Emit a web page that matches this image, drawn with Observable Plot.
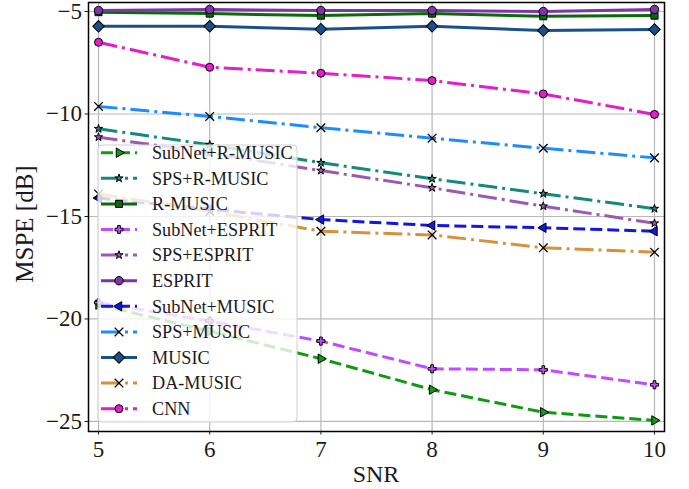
<!DOCTYPE html>
<html><head><meta charset="utf-8">
<script src="https://cdn.jsdelivr.net/npm/d3@7"></script>
<script src="https://cdn.jsdelivr.net/npm/@observablehq/plot@0.6"></script>
<style>html,body{margin:0;padding:0;background:#fff;} #chart{width:689px;height:489px;position:relative;}</style>
</head><body><div id="chart"></div>
<script>
const snr = [5, 6, 7, 8, 9, 10];
const subnetRMusic = [-19.3, -20.6, -21.94, -23.45, -24.55, -24.95];
const spsRMusic    = [-10.72, -11.5, -12.38, -13.16, -13.89, -14.62];
const rMusic       = [-5.03, -5.1, -5.2, -5.1, -5.23, -5.2];
const subnetEsprit = [-19.2, -20.1, -21.08, -22.43, -22.48, -23.21];
const spsEsprit    = [-11.13, -11.9, -12.76, -13.6, -14.5, -15.33];
const esprit       = [-4.95, -4.9, -4.95, -4.95, -5.0, -4.9];
const subnetMusic  = [-14.1, -14.65, -15.15, -15.44, -15.55, -15.72];
const spsMusic     = [-9.63, -10.12, -10.67, -11.18, -11.67, -12.14];
const music        = [-5.72, -5.72, -5.86, -5.72, -5.93, -5.88];
const daMusic      = [-13.9, -14.75, -15.72, -15.9, -16.53, -16.74];
const cnn          = [-6.5, -7.72, -8.01, -8.37, -9.02, -10.02];

const seriesNames = ["SubNet+R-MUSIC","SPS+R-MUSIC","R-MUSIC","SubNet+ESPRIT","SPS+ESPRIT","ESPRIT","SubNet+MUSIC","SPS+MUSIC","MUSIC","DA-MUSIC","CNN"];
const seriesValues = [subnetRMusic, spsRMusic, rMusic, subnetEsprit, spsEsprit, esprit, subnetMusic, spsMusic, music, daMusic, cnn];
const seriesColors = ["#119911","#168a78","#0a6a0a","#c04cff","#9b59b6","#7e35a8","#1515e6","#1e8cff","#1b4f8a","#d9903b","#e21fc8"];
const seriesDash = ["dashed","dashdot","solid","dashed","dashdot","solid","dashed","dashdot","solid","dashdot","dashdot"];
const seriesSymbols = ["triangle","star","square","cross","star","circle","triangle","times","square","times","circle"];
const seriesRotate = [90, 0, 0, 0, 0, 0, -90, 0, 45, 0, 0];
const seriesR = [3.5, 2.6, 4, 3.4, 2.6, 4.2, 3.5, 4, 4.6, 4, 4];

const xTicks = [5, 6, 7, 8, 9, 10];
const yTicks = [-25, -20, -15, -10, -5];
const xLabel = "SNR";
const yLabel = "MSPE [dB]";

const dashMap = {solid: null, dashed: "12,5", dashdot: "19,5,3,5"};
const FONT = "'Liberation Serif','Times New Roman',serif";

const rows = [];
seriesNames.forEach((name, i) => seriesValues[i].forEach((v, j) => rows.push({series: name, idx: i, snr: snr[j], v})));

const marks = [
  Plot.gridX(xTicks, {stroke: "#b8b8b8", strokeOpacity: 1, strokeWidth: 1.2}),
  Plot.gridY(yTicks, {stroke: "#b8b8b8", strokeOpacity: 1, strokeWidth: 1.2})
];
seriesNames.forEach((name, i) => {
  const data = rows.filter(d => d.idx === i);
  marks.push(Plot.line(data, {x: "snr", y: "v", stroke: seriesColors[i], strokeWidth: 3,
    strokeDasharray: dashMap[seriesDash[i]], strokeLinecap: "butt", strokeLinejoin: "round"}));
  const isTimes = seriesSymbols[i] === "times";
  marks.push(Plot.dot(data, {x: "snr", y: "v", symbol: seriesSymbols[i], r: seriesR[i], rotate: seriesRotate[i],
    fill: isTimes ? "none" : seriesColors[i], stroke: "black", strokeWidth: isTimes ? 1.3 : 1}));
});
marks.push(Plot.frame({stroke: "black", strokeWidth: 1.5}));
marks.push(Plot.axisX({ticks: xTicks, tickSize: 3.5, tickPadding: 6, label: null, fontSize: 23, tickFormat: d => String(d)}));
marks.push(Plot.axisY({ticks: yTicks, tickSize: 3.5, tickPadding: 3, label: null, fontSize: 23, tickFormat: d => (d < 0 ? "\u2212" : "") + Math.abs(d)}));

const plot = Plot.plot({
  width: 689, height: 489,
  marginLeft: 88, marginRight: 25, marginTop: 2, marginBottom: 58,
  x: {domain: [4.91, 10.09]},
  y: {domain: [-25.49, -4.56]},
  style: {fontFamily: FONT, fontSize: "23px", color: "#1a1a1a", background: "white"},
  marks
});
document.getElementById("chart").appendChild(plot);

const svg = d3.select(plot);
svg.append("text").attr("x", 376).attr("y", 482).attr("text-anchor", "middle")
  .attr("font-family", FONT).attr("font-size", 24).attr("fill", "#1a1a1a").text(xLabel);
svg.append("text").attr("transform", "translate(33,224) rotate(-90)").attr("text-anchor", "middle")
  .attr("font-family", FONT).attr("font-size", 25).attr("fill", "#1a1a1a").text(yLabel);

// legend
const symMap = {circle: d3.symbolCircle, square: d3.symbolSquare, star: d3.symbolStar, triangle: d3.symbolTriangle, cross: d3.symbolCross, times: d3.symbolTimes};
const lg = svg.append("g");
lg.append("rect").attr("x", 98).attr("y", 145).attr("width", 199).attr("height", 277).attr("rx", 4)
  .attr("fill", "white").attr("fill-opacity", 0.8).attr("stroke", "#d0d0d0").attr("stroke-width", 1);
seriesNames.forEach((name, i) => {
  const y = 152.7 + i * 25.6;
  const g = lg.append("g");
  const ln = g.append("line").attr("x1", 101).attr("x2", 137).attr("y1", y).attr("y2", y)
    .attr("stroke", seriesColors[i]).attr("stroke-width", 3);
  if (dashMap[seriesDash[i]]) ln.attr("stroke-dasharray", dashMap[seriesDash[i]]);
  const isTimes = seriesSymbols[i] === "times";
  g.append("path").attr("d", d3.symbol(symMap[seriesSymbols[i]], Math.PI * seriesR[i] * seriesR[i])())
    .attr("transform", `translate(119,${y}) rotate(${seriesRotate[i]})`)
    .attr("fill", isTimes ? "none" : seriesColors[i]).attr("stroke", "black").attr("stroke-width", isTimes ? 1.3 : 1);
  g.append("text").attr("x", 152).attr("y", y).attr("dy", "0.35em").attr("text-anchor", "start").attr("font-family", FONT)
    .attr("font-size", 18.2).attr("fill", "#1a1a1a").text(name);
});
</script>
</body></html>
